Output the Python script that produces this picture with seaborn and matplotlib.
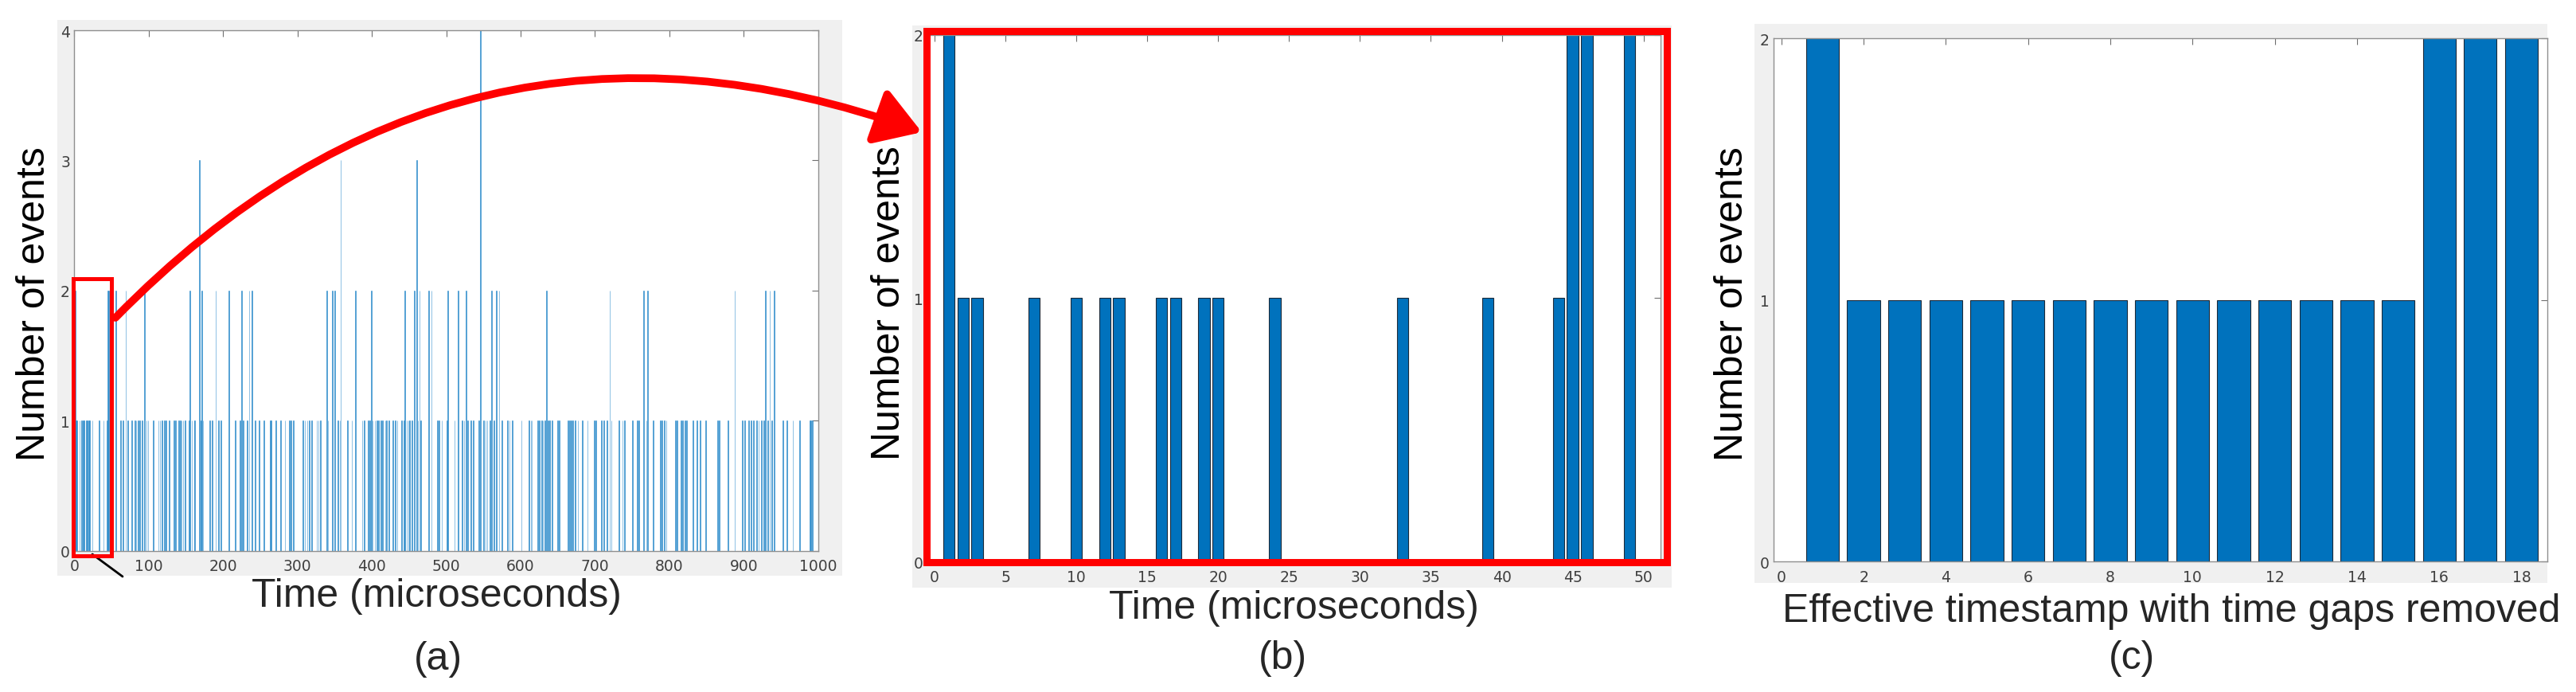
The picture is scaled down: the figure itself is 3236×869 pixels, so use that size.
import matplotlib
matplotlib.use("Agg")
import matplotlib.pyplot as plt
import seaborn as sns
from matplotlib.patches import Rectangle, FancyArrowPatch
from matplotlib.lines import Line2D

sns.set_theme(style="white")
plt.rcParams['font.family'] = ['Liberation Sans', 'DejaVu Sans']

W, H = 3237, 870
BLUE = '#0072BD'

# (a) events per microsecond over the first 1000 us (bins with no events left out)
time_a = [1, 2, 3, 7, 10, 12, 13, 16, 17, 19, 20, 24, 33, 39, 44, 45, 46, 49,
          56, 62, 65, 69, 72, 77, 81, 83, 86, 88, 91, 94, 97, 99,
          106, 113, 115, 118, 121, 123, 127, 134, 136, 140, 142, 144, 146, 149,
          154, 155, 158, 161, 162, 168, 170, 171, 173, 182, 185, 190, 194, 197,
          208, 216, 223, 225, 227, 232, 235, 239, 243, 248, 255, 263, 264, 271, 277, 283, 289, 291, 294,
          307, 310, 313, 316, 319, 326, 328, 331, 339, 341, 347, 350, 354, 357, 358, 367, 373, 378, 387, 390, 395, 397, 399,
          401, 404, 407, 409, 412, 414, 418, 420, 423, 428, 431, 434, 440, 443, 444, 447, 449, 451, 454, 457, 460, 462, 464, 466, 476, 480, 488, 490, 494,
          501, 502, 511, 516, 521, 524, 527, 529, 533, 536, 544, 546, 550, 553, 555, 559, 561, 564, 567, 571, 575, 582, 585, 589,
          601, 611, 614, 615, 623, 625, 628, 630, 633, 635, 637, 639, 642, 650, 652, 664, 666, 668, 670, 673, 677, 683, 690, 699,
          701, 709, 712, 716, 720, 722, 732, 737, 740, 750, 757, 759, 765, 769, 771, 778, 788, 790, 793, 796,
          808, 810, 816, 818, 821, 823, 832, 837, 841, 849, 865, 867, 879, 888, 898,
          901, 907, 910, 913, 917, 920, 924, 927, 929, 932, 935, 938, 941, 953, 958, 966, 975, 989, 990, 992]
count_a = [2, 1, 1, 1, 1, 1, 1, 1, 1, 1, 1, 1, 1, 1, 1, 2, 2, 2,
           2, 1, 1, 2, 1, 1, 1, 1, 1, 1, 1, 2, 1, 1,
           1, 1, 1, 1, 1, 1, 1, 1, 1, 1, 1, 1, 1, 1,
           1, 2, 1, 1, 1, 3, 1, 2, 1, 1, 1, 2, 1, 1,
           2, 1, 1, 2, 1, 1, 2, 2, 1, 1, 1, 1, 1, 1, 1, 1, 1, 1, 1,
           1, 1, 1, 1, 1, 1, 1, 1, 2, 1, 2, 2, 1, 1, 3, 1, 1, 2, 1, 1, 1, 1, 2,
           1, 1, 1, 1, 1, 1, 1, 1, 1, 1, 1, 1, 1, 1, 2, 1, 1, 1, 1, 2, 3, 1, 2, 1, 2, 2, 1, 1, 1,
           1, 2, 1, 2, 1, 1, 2, 1, 1, 1, 1, 4, 1, 1, 1, 1, 2, 1, 2, 2, 1, 1, 1, 1,
           1, 1, 1, 1, 1, 1, 1, 1, 1, 2, 1, 1, 1, 1, 1, 1, 1, 1, 1, 1, 1, 1, 1, 1,
           1, 1, 1, 1, 2, 1, 1, 1, 1, 1, 1, 1, 2, 1, 2, 1, 1, 1, 1, 1,
           1, 1, 1, 1, 1, 1, 1, 1, 1, 1, 1, 1, 1, 2, 1,
           1, 1, 1, 1, 1, 1, 1, 1, 2, 1, 2, 1, 2, 1, 1, 1, 1, 1, 1, 1]
assert len(time_a) == len(count_a)

# (b) zoom on the first 50 us
time_b = [1, 2, 3, 7, 10, 12, 13, 16, 17, 19, 20, 24, 33, 39, 44, 45, 46, 49]
count_b = [2, 1, 1, 1, 1, 1, 1, 1, 1, 1, 1, 1, 1, 1, 1, 2, 2, 2]

# (c) same events with the empty time bins removed
step_c = [1, 2, 3, 4, 5, 6, 7, 8, 9, 10, 11, 12, 13, 14, 15, 16, 17, 18]
count_c = [2, 1, 1, 1, 1, 1, 1, 1, 1, 1, 1, 1, 1, 1, 1, 2, 2, 2]

fig = plt.figure(figsize=(W / 100, H / 100), dpi=100, facecolor='white')


def px(x, y):
    return x / W, 1 - y / H


def axes_px(l, t, r, b):
    return fig.add_axes([l / W, 1 - b / H, (r - l) / W, (b - t) / H])


def gray_bg(l, t, r, b):
    fig.patches.append(Rectangle(px(l, b), (r - l) / W, (b - t) / H, transform=fig.transFigure,
                                 facecolor='#F0F0F0', edgecolor='none', zorder=-5))


def style(ax):
    ax.set_facecolor('white')
    for s in ax.spines.values():
        s.set_visible(True)
        s.set_color('#8f8f8f')
        s.set_linewidth(1.0)
    ax.tick_params(direction='in', top=True, right=True, length=6, width=0.8,
                   color='#6e6e6e', labelsize=13.5, labelcolor='#404040',
                   labelfontfamily='DejaVu Sans')
    ax.tick_params(axis='x', pad=7)
    ax.tick_params(axis='y', pad=4)
    ax.set(xlabel='', ylabel='')


gray_bg(72, 26, 1058, 724)
gray_bg(1146, 33, 2100, 739)
gray_bg(2204, 31, 3200, 733)

# (a)
ax_a = axes_px(93.5, 39, 1027.7, 692.5)
sns.barplot(x=time_a, y=count_a, native_scale=True, width=0.8, color=BLUE, saturation=1,
            errorbar=None, edgecolor='#3a93d0', linewidth=0.4, ax=ax_a)
ax_a.set_xlim(0, 1000)
ax_a.set_ylim(0, 4)
ax_a.set_xticks(range(0, 1001, 100))
ax_a.set_yticks([0, 1, 2, 3, 4])
style(ax_a)

# (b)
ax_b = axes_px(1165.5, 44.5, 2086, 706)
sns.barplot(x=time_b, y=count_b, native_scale=True, width=0.8, color=BLUE, saturation=1,
            errorbar=None, edgecolor='#1b2a3a', linewidth=0.8, ax=ax_b)
ax_b.set_xlim(-0.48, 51.2)
ax_b.set_ylim(0, 2)
ax_b.set_xticks(range(0, 51, 5))
ax_b.set_yticks([0, 1, 2])
style(ax_b)

# (c)
ax_c = axes_px(2228, 49, 3200, 706)
sns.barplot(x=step_c, y=count_c, native_scale=True, width=0.8, color=BLUE, saturation=1,
            errorbar=None, edgecolor='#1b2a3a', linewidth=0.8, ax=ax_c)
ax_c.set_xlim(-0.19, 18.63)
ax_c.set_ylim(0, 2)
ax_c.set_xticks(range(0, 19, 2))
ax_c.set_yticks([0, 1, 2])
style(ax_c)

# axis titles and panel letters
FS = 36
for x, y in [(56, 382), (1130, 381), (2189, 382)]:
    fig.text(*px(x, y), 'Number of events', fontsize=FS, rotation=90,
             rotation_mode='anchor', ha='center', va='baseline', color='black')
fig.text(*px(548, 762), 'Time (microseconds)', fontsize=FS, ha='center', va='baseline')
fig.text(*px(1625, 777), 'Time (microseconds)', fontsize=FS, ha='center', va='baseline')
fig.text(*px(2728, 781), 'Effective timestamp with time gaps removed', fontsize=FS,
         ha='center', va='baseline')
fig.text(*px(550, 841), '(a)', fontsize=FS, ha='center', va='baseline')
fig.text(*px(1611, 840), '(b)', fontsize=FS, ha='center', va='baseline')
fig.text(*px(2678, 840), '(c)', fontsize=FS, ha='center', va='baseline')

# zoom markers
fig.patches.append(Rectangle(px(92, 698.7), 48.5 / W, 348.2 / H, transform=fig.transFigure,
                             fill=False, edgecolor='red', linewidth=3.6, zorder=5))
fig.lines.append(Line2D([116 / W, 154 / W], [1 - 697 / H, 1 - 725 / H],
                        transform=fig.transFigure, color='black', linewidth=2, zorder=5))
fig.patches.append(Rectangle(px(1164, 707), 930 / W, 667 / H, transform=fig.transFigure,
                             fill=False, edgecolor='red', linewidth=6.5, zorder=5))
fig.patches.append(FancyArrowPatch(px(145, 400), px(1158, 167), transform=fig.transFigure,
                                   connectionstyle='arc3,rad=-0.32',
                                   arrowstyle='-|>,head_length=2.3,head_width=1.45',
                                   mutation_scale=15, linewidth=7, color='red',
                                   shrinkA=0, shrinkB=0, zorder=6))

fig.savefig('out.png', dpi=100)
